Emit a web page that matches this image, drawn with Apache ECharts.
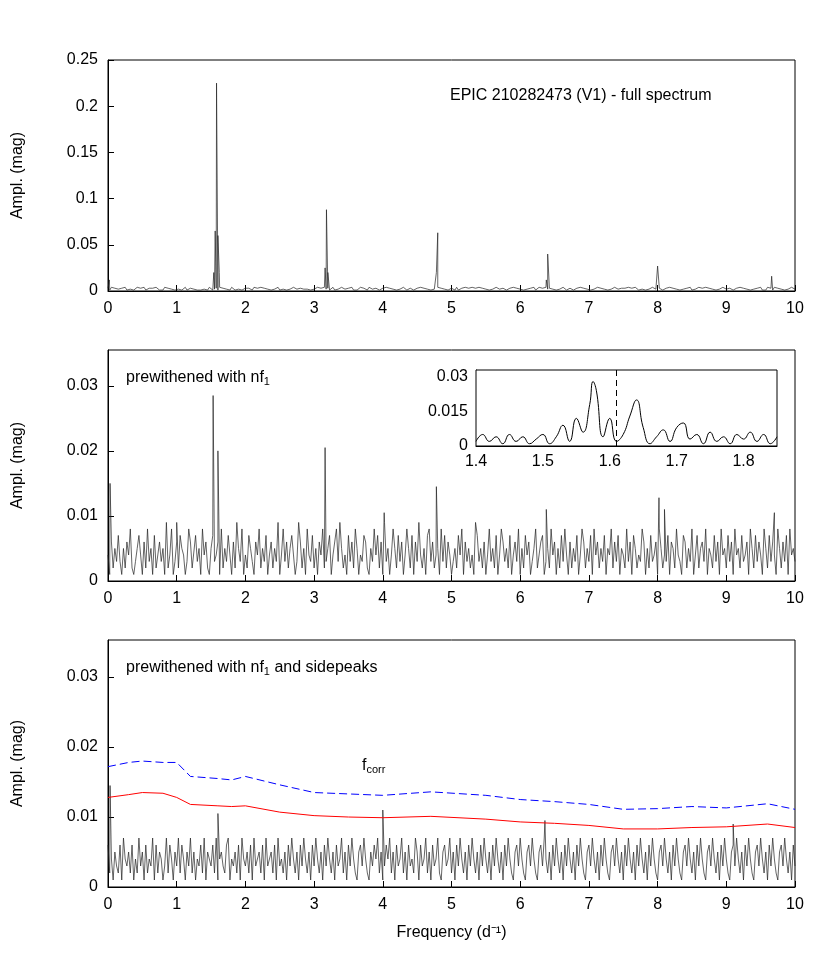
<!DOCTYPE html>
<html><head><meta charset="utf-8">
<script src="https://cdn.jsdelivr.net/npm/echarts@6/dist/echarts.min.js"></script>
<style>html,body{margin:0;padding:0;background:#fff}#c{width:830px;height:969px}</style>
</head><body><div id="c"></div>
<script>
// noise levels, one digit per 0.025 d^-1 step, units of 0.001 mag
const noise1 = "31423121324132213423141231324213142312413221341231"+"24131322143123142312314213241231321423142312413214"+"13241321432131242313214231423124132143213241312423"+"21432134123142312413214312341231423124132142312413"+"32141231423142314231241321432134123142312413213241"+"14231423124132143123412314231241321423124132143213"+"23142314213241321432134123142312413213241321423142"+"31241321432134123142312413213241314231423124132143"+"2";
const noise2 = "41625373152648213574162835172463519248136275413862"+"27351846215734618253741629538142753164825371462539"+"14836257413962518437251648235714683952417362851437"+"62153847261935148527361485271639425178362451837264"+"13527481635241973526148352714863527146381527461358"+"24671352846152738416253714862537184625371548263715"+"42836175243861527346185243716528431762538147256381"+"54273618452736184527346185273641852736418526371845"+"3";
const noise3 = "62415326174352614273516243716254137264153726415372"+"51436271543627145326714352617435261734526173452617"+"34251637425163742516374251637425163472516374215637"+"42153647251364725163472516342751634725163472156347"+"25163742516374251637425163742516374215637421563742"+"15637425163742516374251637421563742516374215637425"+"16374251637425163742156374251637421563742516374215"+"63742516374215637425163742156374251637421563742516"+"3";
const peaks1 = [[0.02,0.012],[1.54,0.02],[1.56,0.065],[1.58,0.225],[1.60,0.06],[1.62,0.02],[3.16,0.025],[3.18,0.088],[3.20,0.02],[4.78,0.02],[4.80,0.063],[6.38,0.012],[6.40,0.04],[8.00,0.027],[9.66,0.016]];
const peaks2 = [[0.03,0.015],[1.00,0.009],[1.53,0.0285],[1.60,0.020],[3.16,0.0205],[4.02,0.0105],[4.78,0.0145],[6.38,0.011],[8.02,0.0128],[8.10,0.011],[9.70,0.0105]];
const peaks3 = [[0.03,0.0145],[1.60,0.0105],[4.00,0.011],[6.36,0.0095],[9.10,0.009]];
const insetX = [1.40,1.41,1.42,1.43,1.44,1.45,1.46,1.47,1.48,1.49,1.50,1.51,1.52,1.53,1.54,1.55,1.56,1.57,1.575,1.58,1.59,1.60,1.61,1.62,1.63,1.64,1.65,1.66,1.67,1.68,1.69,1.70,1.71,1.72,1.73,1.74,1.75,1.76,1.77,1.78,1.79,1.80,1.81,1.82,1.83,1.84,1.85];
const insetY = [0.002,0.005,0.002,0.004,0.001,0.005,0.002,0.004,0.001,0.003,0.005,0.001,0.004,0.009,0.002,0.012,0.006,0.018,0.028,0.024,0.004,0.012,0.002,0.005,0.013,0.020,0.008,0.001,0.004,0.007,0.002,0.008,0.010,0.003,0.005,0.001,0.006,0.002,0.004,0.001,0.005,0.003,0.006,0.002,0.005,0.001,0.004];
const corrX = [0,0.3,0.5,0.8,1.0,1.2,1.6,1.8,2.0,2.5,3.0,3.5,4.0,4.7,5.5,6.0,6.5,7.0,7.5,8.0,8.5,9.0,9.6,10];
const blueY = [0.0172,0.0178,0.0180,0.0178,0.0178,0.0158,0.0155,0.0153,0.0158,0.0146,0.0135,0.0133,0.0131,0.0136,0.0131,0.0125,0.0122,0.0118,0.0111,0.0112,0.0115,0.0113,0.0119,0.0111];
const redY = [0.0128,0.0132,0.0135,0.0134,0.0128,0.0118,0.0116,0.0115,0.0116,0.0107,0.0102,0.0100,0.0099,0.0101,0.0097,0.0093,0.0091,0.0088,0.0083,0.0083,0.0085,0.0086,0.0090,0.0085];

function build(noise, peaks){
  const pts = [];
  for(let i=0;i<noise.length;i++) pts.push([i*0.025, (+noise[i])*0.001]);
  peaks.forEach(p=>pts.push(p));
  pts.sort((a,b)=>a[0]-b[0]);
  return pts;
}
const font = {fontFamily:'Liberation Sans, Arial', fontSize:16, color:'#000'};
const gridsPx = [{top:60,bottom:969-291},{top:350,bottom:969-581},{top:640,bottom:969-887}];
const grid = gridsPx.map(g=>({left:108,right:830-795,top:g.top,bottom:g.bottom,show:true,borderColor:'#000',borderWidth:1}));
grid.push({left:476,right:830-777,top:370,bottom:969-446,show:true,borderColor:'#000',borderWidth:1,z:5,backgroundColor:'#fff'});
const xA = (gi,extra)=>Object.assign({type:'value',gridIndex:gi,min:0,max:10,interval:1,
  axisLine:{lineStyle:{color:'#000'}},axisTick:{inside:true,length:6,lineStyle:{color:'#000'}},
  axisLabel:Object.assign({margin:10},font),splitLine:{show:false}},extra||{});
const yA = (gi,max,iv,extra)=>Object.assign({type:'value',gridIndex:gi,min:0,max:max,interval:iv,
  axisLine:{lineStyle:{color:'#000'}},axisTick:{inside:true,length:6,lineStyle:{color:'#000'}},
  axisLabel:Object.assign({margin:10,showMaxLabel:false},font),splitLine:{show:false},
  name:'Ampl. (mag)',nameLocation:'middle',nameGap:82,nameTextStyle:font},extra||{});
const xAxis=[xA(0),xA(1),xA(2,{name:'Frequency (d⁻¹)',nameLocation:'middle',nameGap:38,nameTextStyle:font}),
  xA(3,{min:1.4,max:1.85,interval:0.1,axisLabel:Object.assign({margin:8,showMaxLabel:false},font)})];
const yAxis=[yA(0,0.25,0.05,{axisLabel:Object.assign({margin:10,showMaxLabel:true},font)}),yA(1,0.0355,0.01),yA(2,0.0353,0.01),
  yA(3,0.033,0.015,{name:'',axisLabel:Object.assign({margin:8,showMaxLabel:false},font)})];
const ls={color:'#222',width:0.7};
const series=[
 {type:'line',xAxisIndex:0,yAxisIndex:0,data:build(noise1,peaks1),showSymbol:false,lineStyle:ls},
 {type:'line',xAxisIndex:1,yAxisIndex:1,data:build(noise2,peaks2),showSymbol:false,lineStyle:ls},
 {type:'line',xAxisIndex:2,yAxisIndex:2,data:build(noise3,peaks3),showSymbol:false,lineStyle:ls},
 {type:'line',xAxisIndex:2,yAxisIndex:2,data:corrX.map((x,i)=>[x,blueY[i]]),showSymbol:false,lineStyle:{color:'#0000ff',width:1,type:[8,4]}},
 {type:'line',xAxisIndex:2,yAxisIndex:2,data:corrX.map((x,i)=>[x,redY[i]]),showSymbol:false,lineStyle:{color:'#ff0000',width:1}},
 {type:'line',xAxisIndex:3,yAxisIndex:3,data:insetX.map((x,i)=>[x,insetY[i]]),smooth:0.5,showSymbol:false,lineStyle:{color:'#000',width:1},z:6,
  markLine:{silent:true,symbol:'none',label:{show:false},lineStyle:{color:'#000',type:[6,4],width:1},data:[{xAxis:1.61}]}}
];
const rich={s:{fontSize:11,verticalAlign:'bottom',padding:[8,0,0,0],fontFamily:'Liberation Sans'}};
const graphic=[
 {type:'text',left:450,top:88,style:Object.assign({text:'EPIC 210282473 (V1) - full spectrum',fill:'#000',font:'16px Liberation Sans'})},
 {type:'text',left:126,top:370,style:{text:'prewithened with nf{s|1}',rich:rich,fill:'#000',font:'16px Liberation Sans'}},
 {type:'text',left:126,top:660,style:{text:'prewithened with nf{s|1} and sidepeaks',rich:rich,fill:'#000',font:'16px Liberation Sans'}},
 {type:'text',left:362,top:758,style:{text:'f{s|corr}',rich:rich,fill:'#000',font:'16px Liberation Sans'}}
];
const chart=echarts.init(document.getElementById('c'),null,{renderer:'canvas'});
chart.setOption({animation:false,grid,xAxis,yAxis,series,graphic});
</script></body></html>
